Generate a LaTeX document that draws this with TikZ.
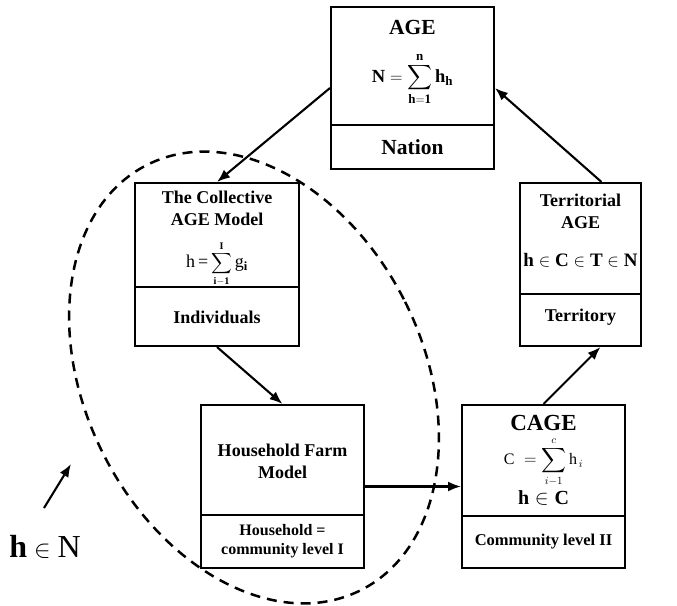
\documentclass[tikz,border=0pt]{standalone}
\usepackage{amsmath}
\usepackage{fontspec}
\setmainfont{Liberation Serif}
\usetikzlibrary{arrows.meta}
\begin{document}
\begin{tikzpicture}[x=1pt,y=-1pt,
  box/.style={draw,line width=2pt,fill=white,inner sep=0pt},
  sepline/.style={line width=2pt},
  conn/.style={line width=2.1pt,-{Latex[length=13pt,width=10pt]}},
  tbig/.style={font=\bfseries\fontsize{21.5}{24}\selectfont,inner sep=0pt},
  tmid/.style={font=\bfseries\fontsize{18}{22}\selectfont,align=center,inner sep=0pt},
  tone/.style={font=\bfseries\fontsize{18}{22}\selectfont,inner sep=0pt},
  tsmall/.style={font=\bfseries\fontsize{16}{19}\selectfont,align=center,inner sep=0pt},
  mathnode/.style={inner sep=0pt},
  cagettlstyle/.style={font=\bfseries\fontsize{23}{26}\selectfont,inner sep=0pt},
  lvlstyle/.style={font=\bfseries\fontsize{16.5}{19}\selectfont,inner sep=0pt}]
\useasboundingbox (0,0) rectangle (677,605);

% dashed ellipse
\draw[line width=2.5pt,dash pattern=on 10pt off 7pt,rotate around={26.6:(254,377.5)}] (254,377.5) ellipse[x radius=169,y radius=238];

% AGE box
\node[box,minimum width=163pt,minimum height=162pt] (age) at (412.5,88) {};
\coordinate (agesep) at (412.5,125);
\draw[sepline] (agesep -| age.west) -- (agesep -| age.east);
\node[tbig] (agettl) at (412.5,27) {AGE};
\node[mathnode,font=\fontsize{18.5}{21}\selectfont] (ageeq) at (412.5,79) {$\displaystyle \mathbf{N}=\sum_{\mathbf{h=1}}^{\mathbf{n}}\mathbf{h}_{\mathbf{h}}$};
\node[tbig] (nation) at (412.5,147) {Nation};

% Collective box
\node[box,minimum width=164pt,minimum height=163pt] (coll) at (217,264.5) {};
\coordinate (collsep) at (217,287);
\draw[sepline] (collsep -| coll.west) -- (collsep -| coll.east);
\node[tmid] (colltxt) at (217,208) {The Collective\\AGE Model};
\node[mathnode,font=\fontsize{18}{21}\selectfont] (colleq) at (217,264) {h\,=\,{\fontsize{14.5}{17}\selectfont$\displaystyle\sum_{\mathbf{i-1}}^{\mathbf{I}}$}\,g$_{\mathbf{i}}$};
\node[tone] (indiv) at (217,317) {Individuals};

% Household box
\node[box,minimum width=163pt,minimum height=163pt] (hh) at (282.5,486.5) {};
\coordinate (hhsep) at (282.5,515);
\draw[sepline] (hhsep -| hh.west) -- (hhsep -| hh.east);
\node[tmid] (hhtxt) at (282.5,461) {Household Farm\\Model};
\node[tsmall] (hhlvl) at (282.5,541) {Household =\\community level I};

% CAGE box
\node[box,minimum width=163pt,minimum height=163pt] (cage) at (543.5,486.5) {};
\coordinate (cagesep) at (543.5,516);
\draw[sepline] (cagesep -| cage.west) -- (cagesep -| cage.east);
\node[cagettlstyle] (cagettl) at (543.5,423) {CAGE};
\node[mathnode,font=\fontsize{16}{19}\selectfont] (cageeq) at (543.5,462) {$\displaystyle \mathrm{C}\;=\sum_{i-1}^{c}\mathrm{h}_{\,i}$};
\node[mathnode,font=\fontsize{20}{23}\selectfont] (cagein) at (543.5,498) {$\mathbf{h}\in\mathbf{C}$};
\node[lvlstyle] (cagelvl) at (543.5,542) {Community level II};

% Territorial box
\node[box,minimum width=121pt,minimum height=163pt] (terr) at (580.5,264.5) {};
\coordinate (terrsep) at (580.5,294);
\draw[sepline] (terrsep -| terr.west) -- (terrsep -| terr.east);
\node[tmid] (terrtxt) at (580.5,211) {Territorial\\AGE};
\node[mathnode,font=\fontsize{19}{22}\selectfont] (terreq) at (580.5,260) {$\mathbf{h}\in\mathbf{C}\in\mathbf{T}\in\mathbf{N}$};
\node[tone] (terrlbl) at (580.5,317) {Territory};

% connectors
\draw[conn] (age.west) -- (coll.north);
\draw[conn] ([xshift=21pt]terr.north) -- (age.east);
\draw[conn] (coll.south) -- (hh.north);
\draw[conn] (hh.east) -- (cage.west);
\draw[conn] (cage.north) -- ([xshift=20pt]terr.south);

% free arrow and label
\coordinate (ftail) at (44,508);
\coordinate (fhead) at (71,464);
\draw[conn] (ftail) -- (fhead);
\node[mathnode,font=\fontsize{32}{36}\selectfont] (hinN) at (45,547) {$\mathbf{h}\in\mathrm{N}$};
\end{tikzpicture}
\end{document}
